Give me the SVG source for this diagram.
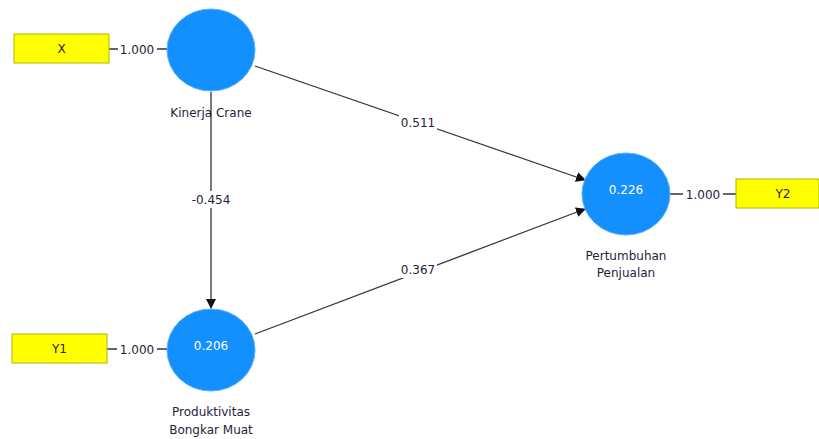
<svg xmlns="http://www.w3.org/2000/svg" width="819" height="439" viewBox="0 0 819 439">
<defs>
<marker id="ah" markerWidth="10" markerHeight="10" refX="9" refY="5" orient="auto" markerUnits="userSpaceOnUse">
<path d="M0,0 L10,5 L0,10 z" fill="#111"/>
</marker>
<style>
.lv{fill:#1490fe;stroke:#5aaefc;stroke-width:1}
.ind{fill:#ffff00;stroke:#b4b400;stroke-width:1}
.t{font-family:"DejaVu Sans",Verdana,sans-serif;font-size:12px;fill:#2b1b3a;text-anchor:middle}
.tw{font-family:"DejaVu Sans",Verdana,sans-serif;font-size:12px;fill:#ffffff;text-anchor:middle}
.ln{stroke:#333;stroke-width:1.3;fill:none}
.bg{fill:#ffffff}
</style>
</defs>
<rect width="819" height="439" fill="#ffffff"/>
<g id="connectors">
<line class="ln" x1="109" y1="49" x2="167" y2="49"/>
<rect class="bg" x="118" y="41" width="39" height="16"/>
<text class="t" x="137" y="54">1.000</text>
<line class="ln" x1="107" y1="349" x2="167" y2="349"/>
<rect class="bg" x="117" y="341" width="40" height="16"/>
<text class="t" x="137" y="354">1.000</text>
<line class="ln" x1="670" y1="194" x2="736" y2="194"/>
<rect class="bg" x="683" y="186" width="40" height="16"/>
<text class="t" x="703" y="199">1.000</text>
<line class="ln" x1="211" y1="92" x2="211" y2="308" marker-end="url(#ah)"/>
<rect class="bg" x="188" y="191" width="46" height="17"/>
<text class="t" x="211" y="204">-0.454</text>
<line class="ln" x1="255" y1="66" x2="585" y2="180" marker-end="url(#ah)"/>
<rect class="bg" x="399" y="114" width="38" height="17"/>
<text class="t" x="418" y="127">0.511</text>
<line class="ln" x1="255" y1="334" x2="585" y2="209" marker-end="url(#ah)"/>
<rect class="bg" x="399" y="261" width="38" height="17"/>
<text class="t" x="418" y="274">0.367</text>
</g>
<g id="X">
<rect class="ind" x="14" y="34" width="95" height="29"/>
<text class="t" x="61.5" y="53">X</text>
</g>
<g id="Y1">
<rect class="ind" x="12" y="334" width="95" height="29"/>
<text class="t" x="59.5" y="353">Y1</text>
</g>
<g id="Y2">
<rect class="ind" x="736" y="179" width="83" height="29"/>
<text class="t" x="783" y="198">Y2</text>
</g>
<g id="KinerjaCrane">
<ellipse class="lv" cx="211" cy="50" rx="44" ry="41"/>
<text class="t" x="211" y="117">Kinerja Crane</text>
</g>
<g id="ProduktivitasBongkarMuat">
<ellipse class="lv" cx="211" cy="350" rx="44" ry="41"/>
<text class="tw" x="211" y="350">0.206</text>
<text class="t" x="211" y="416">Produktivitas</text>
<text class="t" x="211" y="434">Bongkar Muat</text>
</g>
<g id="PertumbuhanPenjualan">
<ellipse class="lv" cx="626" cy="194" rx="44" ry="41"/>
<text class="tw" x="626" y="194">0.226</text>
<text class="t" x="626" y="260">Pertumbuhan</text>
<text class="t" x="626" y="277">Penjualan</text>
</g>
</svg>
